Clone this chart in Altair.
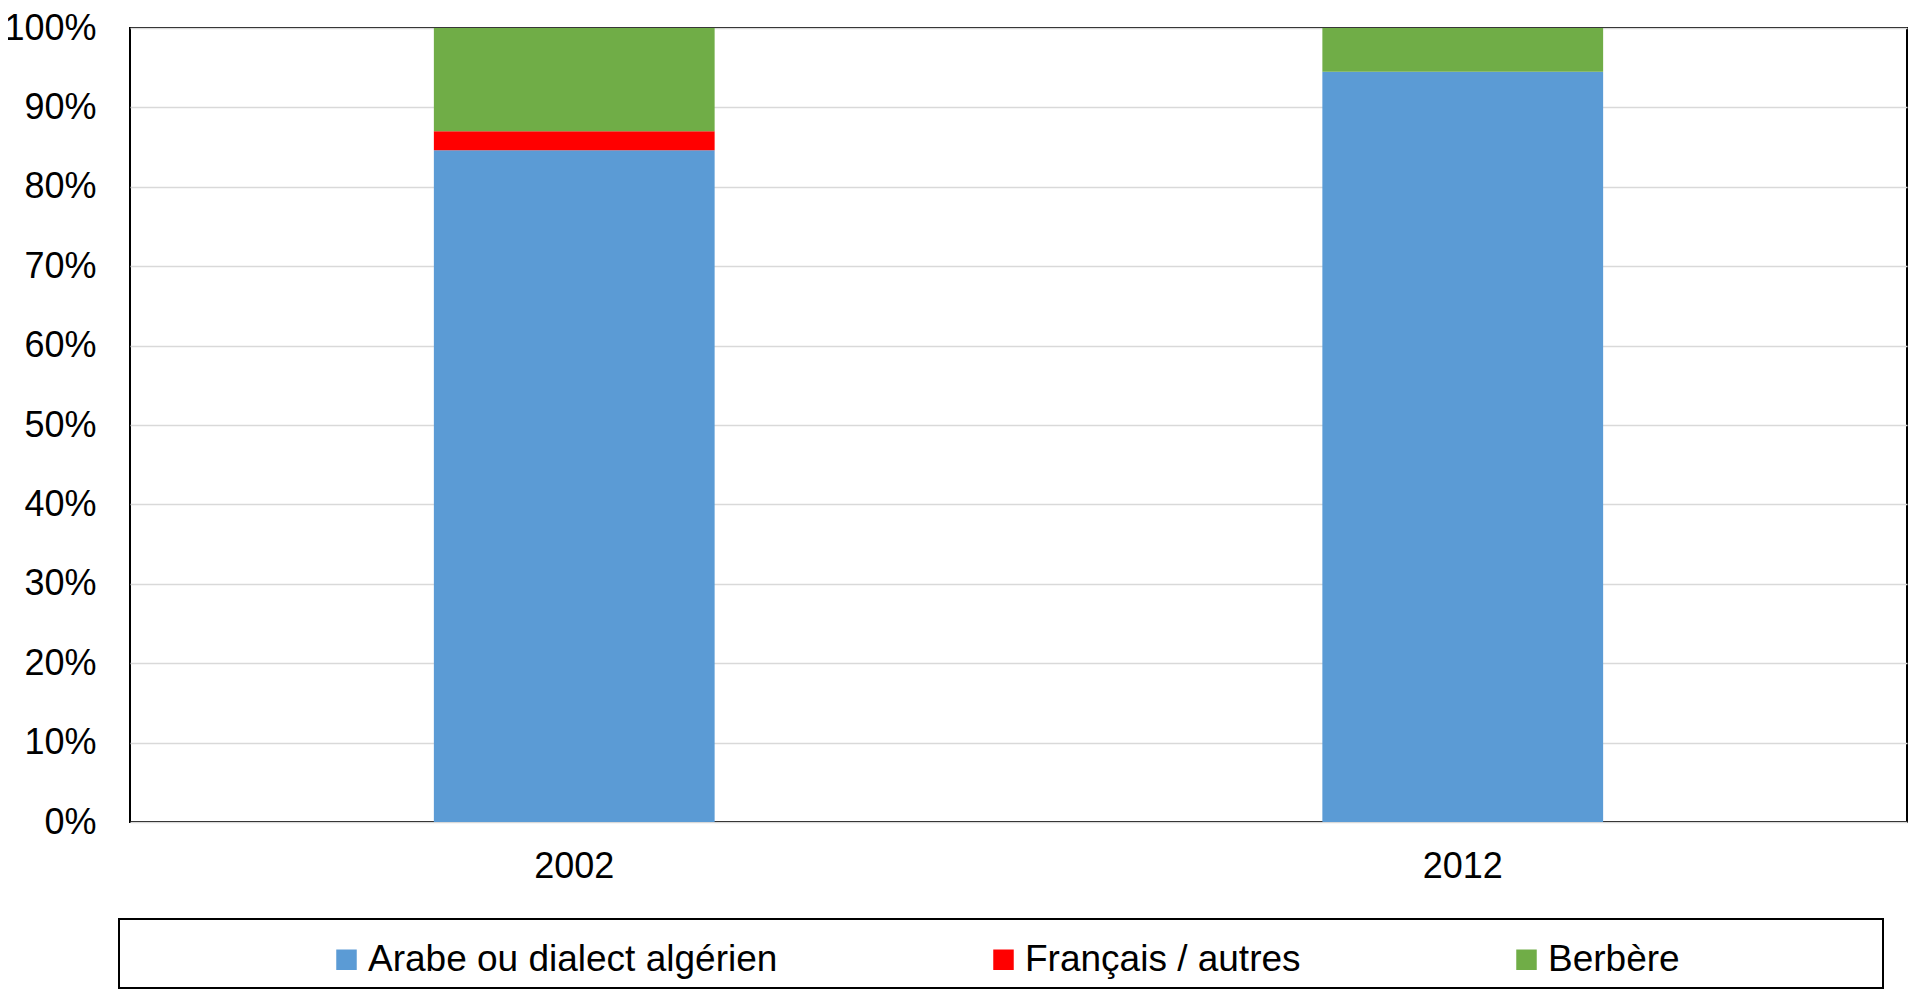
import altair as alt
import pandas as pd

years = ["2002", "2012"]
languages = ["Arabe ou dialect algérien", "Français / autres", "Berbère"]
colors = ["#5B9BD5", "#FF0000", "#70AD47"]
arabe = [0.846, 0.945]
francais = [0.024, 0.0]
berbere = [0.130, 0.055]

rows = []
for i, y in enumerate(years):
    for k, (lang, vals) in enumerate(zip(languages, [arabe, francais, berbere])):
        rows.append({"year": y, "lang": lang, "value": vals[i], "rank": k})
df = pd.DataFrame(rows)

FONT = "Liberation Sans"

bars = alt.Chart(df).mark_bar(strokeWidth=0).encode(
    x=alt.X("year:N", title=None,
            scale=alt.Scale(paddingInner=0.684, paddingOuter=0.342),
            axis=alt.Axis(labelAngle=0, ticks=False, domain=False, grid=False,
                          labelFontSize=36, labelFont=FONT, labelColor="#000000",
                          labelPadding=27)),
    y=alt.Y("value:Q", title=None, stack="zero",
            scale=alt.Scale(domain=[0, 1], nice=False),
            axis=alt.Axis(format=".0%", values=[i / 10 for i in range(11)],
                          ticks=False, domain=False, grid=True,
                          gridColor="#d9d9d9", gridWidth=1.5,
                          labelFontSize=36, labelFont=FONT, labelColor="#000000",
                          labelPadding=34)),
    color=alt.Color("lang:N", sort=languages,
                    scale=alt.Scale(domain=languages, range=colors),
                    legend=alt.Legend(title=None, orient="none", direction="horizontal",
                                      columns=3, legendX=198, legendY=913,
                                      symbolType="square", symbolSize=420,
                                      symbolStrokeWidth=0, labelFontSize=37,
                                      labelFont=FONT, labelColor="#000000",
                                      labelOffset=3, columnPadding=207,
                                      labelLimit=2000, padding=0)),
    order=alt.Order("rank:Q"),
)

frame = alt.Chart(pd.DataFrame({"a": [0]})).mark_rect(
    fill=None, stroke="#000000", strokeWidth=2
).encode(
    x=alt.value(-11), x2=alt.value(1753), y=alt.value(891), y2=alt.value(960)
)

chart = alt.layer(bars, frame).properties(
    width=1777, height=794,
    background="#ffffff",
    autosize=alt.AutoSizeParams(type="none"),
    padding={"left": 122, "top": 20, "right": 2, "bottom": 168},
).configure_view(stroke="#000000", strokeWidth=2)

chart.save("out.html", embed_options={"renderer": "svg", "actions": False})
